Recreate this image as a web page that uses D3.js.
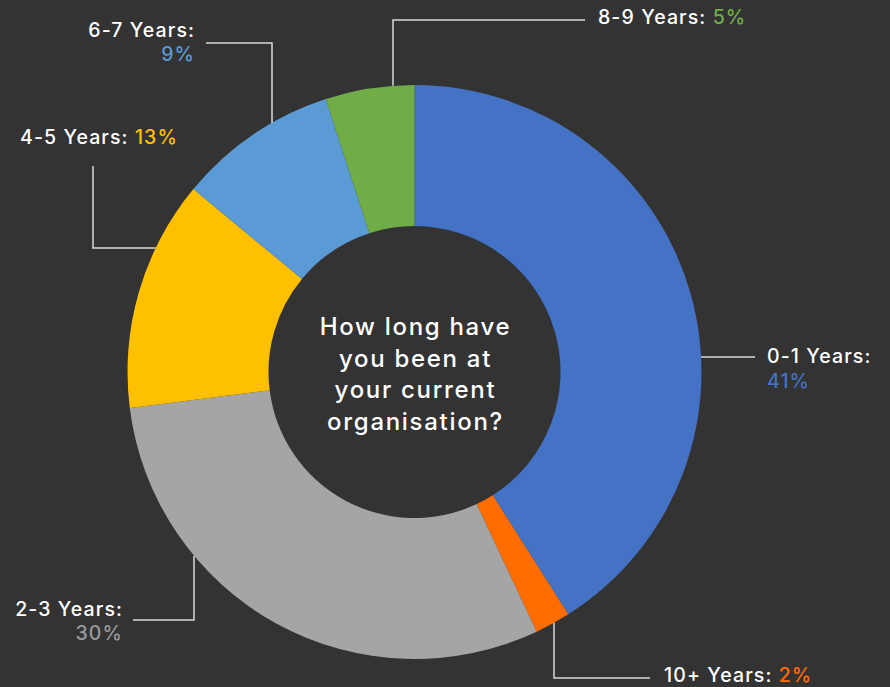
<!DOCTYPE html>
<html>
<head>
<meta charset="utf-8">
<script src="https://cdn.jsdelivr.net/npm/d3@7/dist/d3.min.js"></script>
<style>
  html, body { margin: 0; padding: 0; background: #333333; }
  svg { display: block; }
  text { font-family: Inter, "Noto Sans", sans-serif; }
</style>
</head>
<body>
<svg id="chart" width="890" height="687"></svg>
<script>
// Survey answers: tenure at current organisation, share of respondents (%)
const categories = ["0-1 Years", "10+ Years", "2-3 Years", "4-5 Years", "6-7 Years", "8-9 Years"];
const values = [41, 2, 30, 13, 9, 5];
const colors = ["#4472C4", "#FF6D00", "#A5A5A5", "#FFC000", "#5B9BD5", "#70AD47"];
const pctColors = ["#4472C4", "#FF6D00", "#9A9A9A", "#FFC000", "#5B9BD5", "#70AD47"];
const centerTitle = ["How long have", "you been at", "your current", "organisation?"];

const W = 890, H = 687;
const cx = 414.5, cy = 372, outerR = 287, innerR = 146;

const svg = d3.select("#chart");
svg.append("rect").attr("width", W).attr("height", H).attr("fill", "#333333");

const data = categories.map((c, i) => ({ cat: c, value: values[i], color: colors[i], pct: pctColors[i] }));

const pie = d3.pie().value(d => d.value).sort(null);
const arc = d3.arc().innerRadius(innerR).outerRadius(outerR);
const arcs = pie(data);

const g = svg.append("g").attr("transform", `translate(${cx},${cy})`);
g.selectAll("path.slice")
  .data(arcs)
  .enter().append("path")
  .attr("class", "slice")
  .attr("d", arc)
  .attr("fill", d => d.data.color);

// points on the outer rim found from one coordinate
const rimAtX = (x, side) => [x, cy + side * Math.sqrt(outerR * outerR - (x - cx) * (x - cx))];
const rimAtY = (y, side) => [cx + side * Math.sqrt(outerR * outerR - (y - cy) * (y - cy)), y];

// Leader line routes and label anchors for each slice
const layout = [
  { pts: () => { const p = rimAtY(357, 1); return [p, [755, 357]]; },
    lines: [{ x: 767, y: 356, anchor: "start" }, { x: 767, y: 381, anchor: "start", pctOnly: true }] },
  { pts: () => { const p = rimAtX(554, 1); return [p, [554, 678], [650, 678]]; },
    lines: [{ x: 664, y: 675, anchor: "start", inline: true }] },
  { pts: () => { const p = rimAtX(194, 1); return [p, [194, 620], [133, 620]]; },
    lines: [{ x: 123, y: 609, anchor: "end" }, { x: 123, y: 633, anchor: "end", pctOnly: true }] },
  { pts: () => { const p = rimAtY(248, -1); return [p, [93, 248], [93, 166]]; },
    lines: [{ x: 20, y: 137, anchor: "start", inline: true }] },
  { pts: () => { const p = rimAtX(272, -1); return [p, [272, 43], [206, 43]]; },
    lines: [{ x: 195, y: 30, anchor: "end" }, { x: 195, y: 54, anchor: "end", pctOnly: true }] },
  { pts: () => { const p = rimAtX(393, -1); return [p, [393, 20], [585, 20]]; },
    lines: [{ x: 598, y: 17, anchor: "start", inline: true }] }
];

const labels = svg.append("g");
arcs.forEach((a, i) => {
  const L = layout[i];
  labels.append("path")
    .attr("d", d3.line()(L.pts()))
    .attr("fill", "none")
    .attr("stroke", "#D9D9D9")
    .attr("stroke-width", 1.5);

  L.lines.forEach(ln => {
    const t = labels.append("text")
      .attr("x", ln.x).attr("y", ln.y)
      .attr("dy", "0.35em")
      .attr("text-anchor", ln.anchor)
      .attr("font-size", 19.5)
      .attr("font-weight", 500)
      .attr("letter-spacing", 1.1);
    if (ln.pctOnly) {
      t.attr("fill", a.data.pct).text(a.data.value + "%");
    } else if (ln.inline) {
      t.append("tspan").attr("fill", "#FFFFFF").text(a.data.cat + ": ");
      t.append("tspan").attr("fill", a.data.pct).text(a.data.value + "%");
    } else {
      t.attr("fill", "#FFFFFF").text(a.data.cat + ":");
    }
  });
});

// Question text in the donut hole
const title = svg.append("text")
  .attr("text-anchor", "middle")
  .attr("fill", "#FFFFFF")
  .attr("font-size", 24)
  .attr("font-weight", 500)
  .attr("letter-spacing", 1.7);
centerTitle.forEach((s, i) => {
  title.append("tspan")
    .attr("x", cx + 1)
    .attr("y", 327 + i * 31.5)
    .attr("dy", "0.35em")
    .text(s);
});
</script>
</body>
</html>
